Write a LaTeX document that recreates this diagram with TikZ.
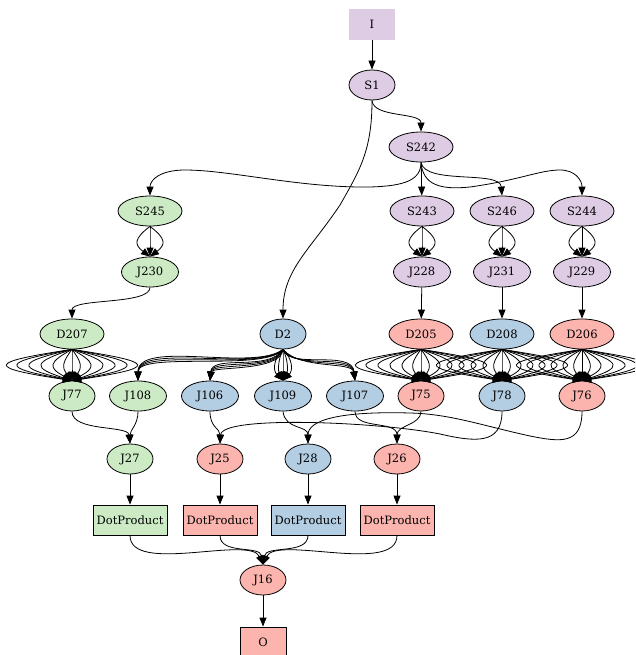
\documentclass[tikz,border=0pt]{standalone}
\usepackage{fontspec}
\setmainfont{DejaVu Serif}
\usetikzlibrary{shapes.geometric,arrows.meta}
\definecolor{pu}{HTML}{DECBE4}
\definecolor{gr}{HTML}{CCEBC5}
\definecolor{bl}{HTML}{B3CDE3}
\definecolor{rd}{HTML}{FBB4AE}
\begin{document}
\begin{tikzpicture}[x=1pt,y=-1pt,
  every node/.style={font=\fontsize{11.5}{13}\selectfont, inner sep=0pt},
  el/.style={ellipse, draw, line width=0.8pt, minimum height=30pt, minimum width=46pt},
  wa/.style={minimum width=57pt},
  wb/.style={minimum width=64pt},
  bx/.style={rectangle, draw, line width=0.8pt, minimum height=30pt, minimum width=46pt},
  dp/.style={bx, minimum width=74pt},
  ar/.style={-{Triangle[length=9pt,width=7pt]}, line width=0.8pt}
]
\useasboundingbox (0,0) rectangle (635,655);
\clip (0,0) rectangle (635,655);
% nodes
\node[rectangle, fill=pu, minimum width=46pt, minimum height=31pt] (I) at (372,24.5) {I};
\node[el, fill=pu] (S1) at (372,85) {S1};
\node[el, wb, fill=pu] (S242) at (421,147) {S242};
\node[el, wb, fill=gr] (S245) at (150,211) {S245};
\node[el, wb, fill=pu] (S243) at (422,211) {S243};
\node[el, wb, fill=pu] (S246) at (502,211) {S246};
\node[el, wb, fill=pu] (S244) at (582,211) {S244};
\node[el, wa, fill=gr] (J230) at (150,272) {J230};
\node[el, wa, fill=pu] (J228) at (422,272) {J228};
\node[el, wa, fill=pu] (J231) at (502,272) {J231};
\node[el, wa, fill=pu] (J229) at (582,272) {J229};
\node[el, wb, fill=gr] (D207) at (72,334) {D207};
\node[el, fill=bl] (D2) at (283,334) {D2};
\node[el, wb, fill=rd] (D205) at (421,334) {D205};
\node[el, wb, fill=bl] (D208) at (502,334) {D208};
\node[el, wb, fill=rd] (D206) at (582,334) {D206};
\node[el, fill=gr] (J77) at (72,396) {J77};
\node[el, wa, fill=gr] (J108) at (138,396) {J108};
\node[el, wa, fill=bl] (J106) at (210,396) {J106};
\node[el, wa, fill=bl] (J109) at (283,396) {J109};
\node[el, wa, fill=bl] (J107) at (355,396) {J107};
\node[el, fill=rd] (J75) at (421,396) {J75};
\node[el, fill=bl] (J78) at (502,396) {J78};
\node[el, fill=rd] (J76) at (582,396) {J76};
\node[el, fill=gr] (J27) at (130,459) {J27};
\node[el, fill=rd] (J25) at (220,459) {J25};
\node[el, fill=bl] (J28) at (308,459) {J28};
\node[el, fill=rd] (J26) at (397,459) {J26};
\node[dp, fill=gr] (P1) at (130,520) {DotProduct};
\node[dp, fill=rd] (P2) at (220,520) {DotProduct};
\node[dp, fill=bl] (P3) at (308,520) {DotProduct};
\node[dp, fill=rd] (P4) at (397,520) {DotProduct};
\node[el, fill=rd] (J16) at (263,580) {J16};
\node[bx, fill=rd] (O) at (263,642) {O};
% top edges
\draw[ar] (I) -- (S1);
\draw[ar] (S1.south) .. controls (373,118) and (421,112) .. (S242.north);
\draw[ar] (S1.south) .. controls (372,150) and (360,170) .. (340,205) .. controls (310,250) and (283,270) .. (D2.north);
\draw[ar] (S242.south) .. controls (421,180) and (405,186) .. (370,187) .. controls (300,188) and (230,170) .. (185,170) .. controls (160,170) and (150,180) .. (S245.north);
\draw[ar] (S242) -- (S243);
\draw[ar] (S242.south) .. controls (425,185) and (500,170) .. (S246.north);
\draw[ar] (S242.south) .. controls (423,185) and (440,190) .. (470,187) .. controls (520,180) and (540,170) .. (560,170) .. controls (575,170) and (582,180) .. (S244.north);
% triple edges
\foreach \s/\j in {S245/J230,S243/J228,S246/J231,S244/J229}{
  \foreach \b in {0,16,-16}
    \draw[ar] (\s.south) .. controls +(\b,12) and +(\b,-12) .. (\j.north);
}
\draw[ar] (J230.south) .. controls (150,305) and (72,298) .. (D207.north);
\draw[ar] (J228) -- (D205);
\draw[ar] (J231) -- (D208);
\draw[ar] (J229.south) -- (D206.north);
% fans
\foreach \d/\j in {D207/J77,D205/J75,D208/J78,D206/J76}{
  \foreach \b in {0,10,-10,24,-24,40,-40,56,-56,72,-72,86,-86}
    \draw[ar] (\d.south) .. controls +(\b,13) and +(\b,-13) .. (\j.north);
}
\foreach \dd in {-6,-2,2,6}{
  \draw[ar] (D2.south) .. controls (260+\dd,372) and (138,345+\dd) .. (J108.north);
  \draw[ar] (D2.south) .. controls (275+\dd,372) and (212,360+\dd) .. (J106.north);
  \draw[ar] (D2.south) .. controls (295+\dd,370) and (352,355+\dd) .. (J107.north);
}
\foreach \b in {0,5,-5,10,-10}
  \draw[ar] (D2.south) .. controls +(\b,10) and +(\b,-10) .. (J109.north);
% lower edges
\draw[ar] (J77.south) .. controls (72,432) and (128,425) .. (J27.north);
\draw[ar] (J108.south) .. controls (138,425) and (130,430) .. (J27.north);
\draw[ar] (J106.south) .. controls (210,428) and (220,428) .. (J25.north);
\draw[ar] (J109.south) .. controls (285,430) and (308,425) .. (J28.north);
\draw[ar] (J107.south) .. controls (355,430) and (397,420) .. (J26.north);
\draw[ar] (J75.south) .. controls (421,425) and (397,425) .. (J26.north);
\draw[ar] (J78.south) .. controls (502,445) and (475,442) .. (440,434) .. controls (380,422) and (222,415) .. (J25.north);
\draw[ar] (J76.south) .. controls (582,445) and (560,442) .. (530,436) .. controls (480,425) and (450,414) .. (410,413) .. controls (340,411) and (308,420) .. (J28.north);
\draw[ar] (J27) -- (P1);
\draw[ar] (J25) -- (P2);
\draw[ar] (J28) -- (P3);
\draw[ar] (J26) -- (P4);
\draw[ar] (P1.south) .. controls (130,575) and (250,535) .. (J16.north);
\draw[ar] (P2.south) .. controls (220,555) and (260,545) .. (J16.north);
\draw[ar] (P3.south) .. controls (308,555) and (266,545) .. (J16.north);
\draw[ar] (P4.south) .. controls (397,575) and (276,535) .. (J16.north);
\draw[ar] (J16) -- (O);
\end{tikzpicture}
\end{document}
